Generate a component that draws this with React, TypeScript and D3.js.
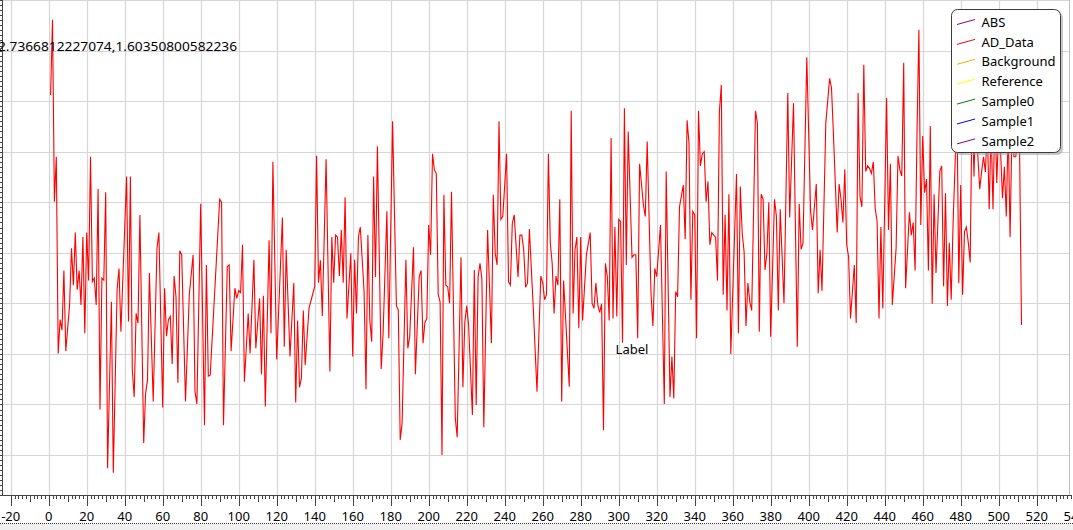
import React from "react";
import * as d3 from "d3";

// AD_Data series: sample index and value
const adIndex = [
  1,2,3,4,5,6,7,8,9,11,12,13,14,15,16,17,18,19,20,21,22,23,24,25,26,27,28,29,30,31,33,34,36,37,38,41,42,43,44,45,46,47,48,50,51,52,53,55,57,58,60,61,62,63,64,65,66,67,68,69,70,72,74,76,77,78,80,82,83,84,85,90,91,92,94,95,96,98,99,
  100,101,102,103,105,106,108,109,111,112,113,114,116,117,118,120,123,124,125,127,129,130,131,132,133,134,135,137,139,140,141,142,143,144,146,148,149,150,151,152,153,154,155,156,157,159,160,161,162,163,164,166,167,168,169,
  170,171,172,173,175,176,178,179,181,183,184,185,186,188,189,190,192,193,195,196,197,198,199,200,201,202,203,204,205,206,207,208,209,210,211,212,214,215,217,218,219,220,221,223,224,225,226,227,228,229,231,233,234,235,236,237,238,239,241,242,243,244,245,247,248,249,
  250,251,252,253,255,257,259,260,261,262,263,264,265,266,267,268,269,270,271,273,274,275,276,277,278,279,280,281,283,285,286,287,288,289,290,291,292,293,294,295,296,297,298,299,300,301,302,303,304,305,307,308,309,310,311,313,314,315,317,318,319,320,322,324,325,327,328,329,330,331,332,334,335,336,337,338,339,
  340,341,342,343,344,345,346,347,348,349,350,351,352,353,354,355,356,357,358,359,362,363,364,365,366,367,368,369,370,372,373,374,375,376,377,378,379,380,382,383,384,385,387,389,390,392,394,395,396,397,399,401,402,404,405,406,407,409,411,412,413,415,416,417,418,419,
  420,421,422,424,425,426,427,428,429,430,431,432,433,434,435,436,437,438,439,441,442,443,444,446,447,448,449,450,451,453,454,455,456,457,458,459,460,461,462,463,464,465,466,467,469,470,471,472,473,474,475,476,477,478,479,
  480,481,482,483,484,485,486,487,488,489,490,491,492,493,494,495,496,497,498,499,500,501,502,503,504,505,506,507,508,509,510,511,512,
];
const adValue = [
  1.512,1.661,1.301,1.39,1.001,1.068,1.047,1.165,1.006,1.097,1.209,1.136,1.24,1.127,1.165,1.097,1.231,1.041,1.24,1.145,1.39,1.143,1.15,1.097,1.326,0.89,1.15,1.146,1.32,0.774,1.103,0.765,1.127,1.169,1.044,1.351,1.064,1.351,0.968,0.915,1.08,1.061,1.275,0.824,0.922,0.948,1.16,0.906,1.209,1.24,0.894,1.13,1.035,1.067,1.074,0.98,1.154,1.113,0.943,1.204,1.196,0.906,1.117,1.196,0.925,0.901,1.297,0.859,1.176,0.956,0.958,1.306,1.30,0.859,1.173,1.176,1.006,1.13,1.11,
  1.125,1.121,1.216,0.945,1.08,1.001,1.186,1.011,1.11,0.96,1.115,0.896,1.225,1.041,1.38,0.989,1.27,1.014,1.206,0.995,1.14,0.904,1.066,0.934,0.952,1.086,0.978,1.09,1.119,1.133,1.392,1.141,1.185,1.075,1.385,0.965,1.231,1.141,1.235,1.231,1.154,1.245,1.141,1.31,1.07,1.199,0.995,1.186,1.08,1.231,1.251,1.123,0.93,1.235,1.067,
  1.024,1.351,1.152,1.411,0.97,1.041,1.282,1.031,1.46,1.095,1.087,0.83,0.863,1.186,1.011,1.034,1.211,0.96,1.153,1.165,1.021,1.062,1.07,1.255,1.196,1.396,1.364,1.357,1.117,1.103,0.80,1.315,1.136,1.133,1.10,1.321,0.873,0.835,1.191,0.934,1.062,1.095,1.057,0.879,1.166,0.899,1.153,1.179,1.148,0.855,1.245,1.021,1.315,1.199,1.176,1.46,1.266,1.272,1.396,1.143,1.136,1.258,1.275,1.152,1.235,1.235,
  1.206,1.132,1.14,1.247,1.094,0.925,1.154,1.141,1.107,1.117,1.396,1.219,1.179,1.08,1.154,1.136,1.306,0.906,1.145,1.004,0.935,1.481,1.08,1.206,1.231,1.051,1.231,1.066,1.196,1.24,1.10,1.09,1.14,1.097,1.082,1.099,0.849,1.179,1.153,1.066,1.427,1.07,1.251,1.074,1.266,1.262,1.022,1.486,1.176,1.44,1.191,1.196,1.196,1.031,1.376,1.295,1.272,1.42,1.12,1.055,1.169,1.153,1.255,0.901,1.361,0.915,0.995,0.912,1.123,1.113,1.291,1.334,1.227,1.462,1.417,1.107,1.282,
  1.275,1.031,1.481,1.372,1.396,1.40,1.301,1.341,1.216,1.24,1.235,1.231,1.145,1.479,1.532,1.117,1.275,1.086,1.316,1.00,1.356,1.041,1.331,1.239,1.202,1.055,1.14,1.103,1.086,1.481,1.456,1.044,1.316,1.306,1.166,1.199,1.30,1.034,1.306,1.272,1.086,1.286,1.10,1.516,1.27,1.496,1.014,1.297,1.207,1.219,1.587,1.282,1.245,1.336,1.12,1.206,1.125,1.456,1.545,1.526,1.437,1.24,1.336,1.306,1.26,1.365,
  1.216,1.192,1.07,1.176,1.061,1.516,1.311,1.291,1.572,1.361,1.372,1.367,1.357,1.38,1.288,1.262,1.07,1.251,1.09,1.506,1.245,1.376,1.097,1.209,1.392,1.364,1.352,1.576,1.13,1.28,1.235,1.26,1.165,1.437,1.641,1.255,1.431,1.319,1.346,1.165,1.451,1.099,1.316,1.16,1.361,1.372,1.134,1.318,1.095,1.22,1.107,1.26,1.37,1.50,1.14,
  1.334,1.117,1.242,1.251,1.22,1.181,1.50,1.351,1.50,1.394,1.326,1.36,1.39,1.36,1.45,1.286,1.45,1.286,1.48,1.338,1.45,1.40,1.308,1.37,1.272,1.45,1.231,1.45,1.39,1.39,1.45,1.40,1.057,
];

const legendNames = ["ABS", "AD_Data", "Background", "Reference", "Sample0", "Sample1", "Sample2"];
const legendColors = ["#800080", "#ff0000", "#ffa500", "#ffff00", "#008000", "#0000ff", "#800080"];

const xDomain = [-20, 540];
const yDomain = [0.8, 1.7];
const xTickValues = d3.range(-20, 541, 20);
const xMinorValues = d3.range(-20, 541, 2);
const yGridValues = d3.range(0.8, 1.7001, 0.1);
const yMinorValues = d3.range(0.72, 1.7001, 0.01);

const coordText = "2.7366812227074,1.60350800582236";
const pointLabel = { x: 307, text: "Label" };

const W = 1073;
const H = 530;
const FONT = "'Noto Sans', 'Open Sans', sans-serif";

export default function App() {
  const x = d3.scaleLinear().domain(xDomain).range([10.7, 1074.7]);
  const y = d3.scaleLinear().domain(yDomain).range([455, 0.05]);
  const axisY = 495;

  const pts: [number, number][] = adIndex.map((d, i) => [d, adValue[i]]);
  const line = d3
    .line<[number, number]>()
    .x((d) => x(d[0]))
    .y((d) => y(d[1]));

  const legX = 951.5;
  const legY = 9.5;
  const legW = 109;
  const legH = 143;
  const rowH = 19.9;

  return (
    <svg
      width={W}
      height={H}
      style={{ position: "fixed", left: 0, top: 0, display: "block", background: "#fff" }}
      fontFamily={FONT}
    >
      <rect x={0} y={0} width={W} height={H} fill="#ffffff" />
      {/* grid */}
      <g stroke="#d6d6d6" strokeWidth={1.2}>
        {xTickValues.map((t) => (
          <line key={"gx" + t} x1={Math.round(x(t)) + 0.5} x2={Math.round(x(t)) + 0.5} y1={0} y2={axisY} />
        ))}
        {yGridValues.map((t) => (
          <line key={"gy" + t} x1={2} x2={1070} y1={Math.round(y(t)) + 0.5} y2={Math.round(y(t)) + 0.5} />
        ))}
      </g>
      <line x1={1069.5} x2={1069.5} y1={0} y2={axisY} stroke="#bdbdbd" />

      {/* data */}
      <path d={line(pts) || ""} fill="none" stroke="#ff0000" strokeWidth={1.1} strokeLinejoin="miter" />

      {/* y axis (left edge) */}
      <line x1={2.5} x2={2.5} y1={0} y2={axisY} stroke="#444" />
      <g stroke="#444">
        {yMinorValues.map((t, i) => (
          <line key={"ym" + i} x1={0} x2={2} y1={Math.round(y(t)) + 0.5} y2={Math.round(y(t)) + 0.5} />
        ))}
      </g>

      {/* x axis */}
      <line x1={2} x2={1071} y1={axisY + 0.5} y2={axisY + 0.5} stroke="#444" />
      <g stroke="#444">
        {xMinorValues.map((t) => {
          const len = t % 20 === 0 ? 11 : t % 10 === 0 ? 7 : 4;
          const px = Math.round(x(t)) + 0.5;
          return <line key={"xt" + t} x1={px} x2={px} y1={axisY} y2={axisY + len} />;
        })}
      </g>
      <g fontSize={13} fill="#000" textAnchor="middle">
        {xTickValues.map((t) => (
          <text key={"xl" + t} x={x(t)} y={521}>
            {t}
          </text>
        ))}
      </g>
      <line x1={0} x2={W} y1={523.5} y2={523.5} stroke="#333" strokeDasharray="1,1" />
      <rect x={0} y={524} width={W} height={6} fill="#f0f0f0" />

      {/* annotations */}
      <text x={-2} y={51} fontSize={13} textLength={239} lengthAdjust="spacingAndGlyphs" fill="#000">
        {coordText}
      </text>
      <text x={x(pointLabel.x)} y={354} fontSize={13} textAnchor="middle" fill="#000">
        {pointLabel.text}
      </text>

      {/* legend */}
      <rect x={legX + 2.5} y={legY + 2.5} width={legW} height={legH} rx={6} fill="#9a9a9a" opacity={0.55} />
      <rect x={legX} y={legY} width={legW} height={legH} rx={6} fill="#fff" stroke="#3a3a3a" strokeWidth={1} />
      {legendNames.map((n, i) => {
        const cy = 22 + i * rowH;
        return (
          <g key={n}>
            <line x1={957} x2={975} y1={cy + 2.5} y2={cy - 2.5} stroke={legendColors[i]} strokeWidth={1} />
            <text x={981.5} y={cy + 4.6} fontSize={13} fill="#000">
              {n}
            </text>
          </g>
        );
      })}
    </svg>
  );
}
